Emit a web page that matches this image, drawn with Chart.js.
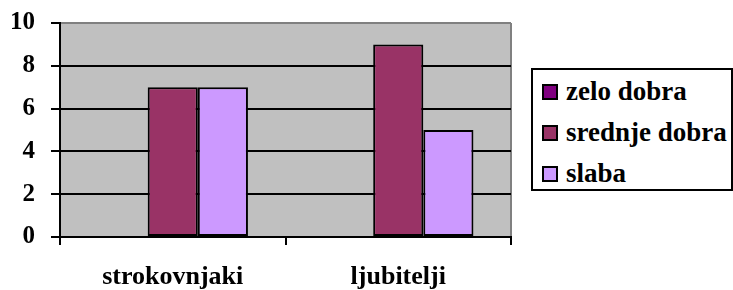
<!DOCTYPE html>
<html>
<head>
<meta charset="utf-8">
<script src="https://cdn.jsdelivr.net/npm/chart.js@4"></script>
<style>
  body { margin: 0; background: #fff; }
  #wrap { position: relative; width: 733px; height: 290px; }
  #legend {
    position: absolute; left: 531px; top: 68px; width: 198px; height: 119px;
    border: 2px solid #000; background: #fff; color: #000;
    font-family: 'Liberation Serif', serif; font-weight: bold; font-size: 27px;
  }
  #legend .item { position: absolute; left: 9px; height: 30px; line-height: 30px; white-space: nowrap; }
  #legend .box {
    display: inline-block; width: 12px; height: 12px; border: 2px solid #000;
    vertical-align: middle; margin-right: 8px; position: relative; top: -2px;
  }
</style>
</head>
<body>
<div id="wrap">
  <canvas id="grafikon" width="733" height="290"></canvas>
  <div id="legend"></div>
</div>
<script>
const kategorije = ['strokovnjaki', 'ljubitelji'];
const serije = ['zelo dobra', 'srednje dobra', 'slaba'];
const zeloDobra = [0, 0];
const srednjeDobra = [7, 9];
const slaba = [7, 5];
const barve = ['#800080', '#993366', '#CC99FF'];

Chart.defaults.font.family = "'Liberation Serif', serif";
Chart.defaults.font.weight = 'bold';

// siva podlaga in desni rob kot v Excelu
const ozadje = {
  id: 'ozadje',
  beforeDraw(chart) {
    const { ctx, chartArea: a } = chart;
    ctx.save();
    ctx.fillStyle = '#C0C0C0';
    ctx.fillRect(a.left, a.top, a.right - a.left, a.bottom - a.top);
    ctx.strokeStyle = '#808080';
    ctx.lineWidth = 2;
    ctx.beginPath();
    ctx.moveTo(a.right, a.top);
    ctx.lineTo(a.right, a.bottom);
    ctx.stroke();
    ctx.restore();
  }
};

new Chart(document.getElementById('grafikon'), {
  type: 'bar',
  data: {
    labels: kategorije,
    datasets: [zeloDobra, srednjeDobra, slaba].map((d, i) => ({
      label: serije[i],
      data: d,
      backgroundColor: barve[i],
      borderColor: '#000',
      borderWidth: 2,
      borderSkipped: false,
      categoryPercentage: 0.667,
      barPercentage: 1
    }))
  },
  options: {
    responsive: false,
    animation: false,
    layout: { padding: { top: 23, right: 222, left: 0, bottom: 0 } },
    plugins: { legend: { display: false }, tooltip: { enabled: false } },
    scales: {
      y: {
        min: 0, max: 10,
        ticks: { stepSize: 2, color: '#000', padding: 16, font: { size: 25 } },
        grid: {
          color: c => (c.tick && c.tick.value === 10 ? '#808080' : '#000'),
          tickColor: '#000',
          lineWidth: 2,
          tickLength: 9
        },
        border: { color: '#000', width: 2 },
        afterFit: s => { s.width = 60; s.paddingTop = 0; s.paddingBottom = 0; }
      },
      x: {
        ticks: { color: '#000', padding: 17, font: { size: 26 } },
        grid: { drawOnChartArea: false, color: '#000', lineWidth: 2, tickLength: 8, offset: true },
        border: { color: '#000', width: 2 },
        afterFit: s => { s.height = 53; }
      }
    }
  },
  plugins: [ozadje]
});

// legenda
const legenda = document.getElementById('legend');
serije.forEach((ime, i) => {
  const el = document.createElement('div');
  el.className = 'item';
  el.style.top = (6 + i * 41) + 'px';
  el.innerHTML = '<span class="box" style="background:' + barve[i] + '"></span>' + ime;
  legenda.appendChild(el);
});
</script>
</body>
</html>
